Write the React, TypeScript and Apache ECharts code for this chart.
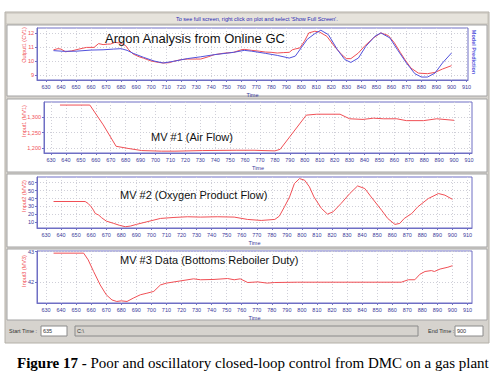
import React, { useEffect, useRef } from "react";
import * as echarts from "echarts";

// ---- data ----
const timeTicks = [630, 640, 650, 660, 670, 680, 690, 700, 710, 720, 730, 740, 750, 760, 770, 780, 790, 800, 810, 820, 830, 840, 850, 860, 870, 880, 890, 900, 910];

const cvTime = [635, 638, 640, 643, 647, 650, 654, 657, 662, 665, 668, 671, 673, 676, 679, 681, 683, 685, 688, 692, 695, 700, 705, 708, 712, 715, 720, 724, 730, 733, 738, 742, 748, 755, 760, 762, 767, 772, 776, 780, 784, 788, 792, 794, 796, 799, 802, 805, 809, 812, 817, 822, 827, 830, 833, 838, 842, 848, 853, 858, 862, 866, 869, 873, 878, 884, 889, 894, 900];
const cvMeasured = [10.8, 10.88, 10.85, 10.66, 10.72, 10.8, 10.9, 10.97, 10.97, 11.24, 11.17, 11.2, 11.21, 11.33, 11.28, 11.2, 11.1, 10.81, 10.5, 10.3, 10.2, 10.0, 9.9, 9.86, 9.88, 9.98, 10.1, 10.14, 10.14, 10.14, 10.3, 10.45, 10.55, 10.62, 10.8, 10.83, 10.76, 10.7, 10.64, 10.62, 10.57, 10.6, 10.62, 10.8, 10.86, 10.93, 11.4, 12.0, 12.12, 12.07, 11.76, 11.05, 10.45, 10.17, 10.17, 10.57, 11.05, 11.64, 12.0, 11.81, 11.29, 10.6, 10.1, 9.5, 9.14, 9.1, 9.19, 9.43, 9.67];

const modelTime = [635, 642, 650, 660, 668, 675, 680, 684, 688, 695, 702, 708, 715, 724, 733, 742, 755, 762, 767, 776, 784, 792, 796, 800, 804, 809, 813, 818, 824, 829, 833, 838, 843, 849, 853, 859, 864, 870, 875.6, 880, 884, 889, 894, 900];
const cvModel = [10.74, 10.69, 10.7, 10.78, 10.8, 10.85, 10.88, 10.76, 10.55, 10.26, 10.0, 9.86, 9.98, 10.17, 10.3, 10.45, 10.62, 10.76, 10.7, 10.55, 10.4, 10.21, 10.35, 10.95, 11.55, 11.95, 12.19, 11.88, 10.81, 10.1, 9.9, 10.21, 11.05, 11.76, 12.0, 11.64, 10.81, 9.86, 9.1, 8.86, 8.86, 9.14, 9.86, 10.57];

const mv1Time = [636, 656, 665, 673.6, 681.6, 690.7, 704, 713, 731.6, 754, 766, 772, 780, 783.5, 792.4, 801, 808, 823.6, 830, 839, 846, 852.7, 861.6, 868, 879.5, 888.4, 900];
const mv1Value = [1340, 1340, 1275, 1205, 1198, 1191, 1189, 1189, 1191, 1192, 1192, 1191, 1190, 1195, 1252, 1307, 1310, 1310, 1295, 1293, 1297, 1295, 1295, 1289, 1289, 1295, 1290];

const mv2Time = [635, 656, 658, 660, 661.5, 662.7, 665, 667, 670, 675, 679, 682.7, 686, 690, 697, 706, 715, 724, 732.7, 743.8, 755, 763.8, 773, 782, 785, 788.4, 791.8, 795, 798.4, 801.8, 805, 808, 813, 817, 820.7, 826, 831.8, 837, 841.8, 846, 852.9, 857, 861.8, 865, 868, 873, 877, 884, 890.7, 895, 900];
const mv2Value = [36.25, 36.25, 33.75, 29.6, 25.4, 21.25, 19.2, 15.8, 11.7, 8.75, 6.25, 4.6, 5.4, 7.5, 10.8, 15, 16.25, 17.1, 16.7, 17.1, 16.7, 13.75, 12.5, 13.75, 17.9, 29.6, 42, 58.75, 65, 63, 54.6, 42, 27.5, 20.4, 23.3, 33.75, 46.25, 55.8, 52.5, 42, 25.4, 15, 7.5, 8.75, 15, 21.25, 29.6, 40, 46.25, 44.2, 39];

const mv3Time = [635, 655, 658, 661.6, 666, 670, 673.8, 677, 680, 683.8, 688, 692.7, 697, 701.6, 706, 710, 719, 728, 732.7, 741.6, 750.6, 755, 759, 764, 770.7, 777, 781.8, 797, 830.7, 866, 870.7, 875, 878.4, 881.8, 886, 888, 891.8, 897, 900];
const mv3Value = [42.95, 42.95, 42.73, 42.35, 41.91, 41.59, 41.42, 41.37, 41.39, 41.37, 41.48, 41.59, 41.64, 41.7, 41.91, 41.97, 42.04, 42.11, 42.08, 42.09, 42.12, 42.08, 42.11, 41.99, 42.01, 41.97, 41.99, 42.0, 42.0, 42.0, 42.08, 42.08, 42.26, 42.35, 42.38, 42.35, 42.43, 42.49, 42.54];

const cvTicks = [9, 10, 11, 12];
const mv1Ticks = [1200, 1250, 1300];
const mv2Ticks = [10, 20, 30, 40, 50, 60];
const mv3Ticks = [42, 43];

const panelTitles = ["Argon Analysis from Online GC", "MV #1 (Air Flow)", "MV #2 (Oxygen Product Flow)", "MV #3 Data (Bottoms Reboiler Duty)"];
const yNames = ["Output1 (CV1)", "Input1 (MV1)", "Input2 (MV2)", "Input3 (MV3)"];

const zip = (xs: number[], ys: number[]) => xs.map((x, i) => [x, ys[i]]);

const RED = "#f04f55";
const BLUE = "#5252dc";
const AXIS = "#6f6fc4";
const LABEL = "#3a3a9a";
const FONT = "Arial, 'Liberation Sans', sans-serif";
const SERIF = "'Liberation Serif', 'Times New Roman', serif";

export default function App() {
  const ref = useRef<HTMLDivElement>(null);
  useEffect(() => {
    if (!ref.current) return;
    const chart = echarts.init(ref.current, undefined, { renderer: "svg" });

    const grids = [
      { left: 37, top: 28, width: 431, height: 52 },
      { left: 44, top: 102, width: 428, height: 51 },
      { left: 37, top: 177, width: 435, height: 51 },
      { left: 37, top: 251, width: 435, height: 52 },
    ];
    const xRanges = [[624, 911], [625.3, 912], [624, 913], [624, 913]];
    const yRanges = [[8.65, 12.35], [1183, 1350], [3, 67], [41.32, 43.02]];
    const yTicks = [cvTicks, mv1Ticks, mv2Ticks, mv3Ticks];

    const split = { show: true, lineStyle: { color: "#cfcfd8", type: [1, 2] as any, width: 1 } };

    const xAxis = grids.map((_, i) => ({
      type: "value",
      gridIndex: i,
      min: xRanges[i][0],
      max: xRanges[i][1],
      axisLine: { show: true, onZero: false, lineStyle: { color: AXIS } },
      axisTick: { show: true, length: 2, customValues: timeTicks, lineStyle: { color: AXIS } },
      axisLabel: { customValues: timeTicks, fontSize: 5.5, color: LABEL, margin: 4, fontFamily: FONT },
      splitLine: split,
      name: "Time",
      nameLocation: "middle",
      nameGap: 12,
      nameTextStyle: { fontSize: 5.5, color: LABEL, fontFamily: FONT },
    }));
    const yAxis = grids.map((_, i) => ({
      type: "value",
      gridIndex: i,
      min: yRanges[i][0],
      max: yRanges[i][1],
      axisLine: { show: true, lineStyle: { color: AXIS } },
      axisTick: { show: true, length: 2, customValues: yTicks[i], lineStyle: { color: AXIS } },
      axisLabel: {
        customValues: yTicks[i],
        fontSize: 5.5,
        color: i <= 1 ? RED : LABEL,
        margin: 3,
        fontFamily: FONT,
        formatter: (v: number) => (i === 1 ? v.toLocaleString("en-US") : String(v)),
      },
      splitLine: split,
    }));

    const line = (xi: number, data: number[][], color: string) => ({
      type: "line",
      xAxisIndex: xi,
      yAxisIndex: xi,
      data,
      showSymbol: false,
      symbol: "none",
      lineStyle: { color, width: 1 },
      z: 3,
    });

    const graphic: any[] = [
      { type: "rect", z: -10, shape: { x: 5, y: 12, width: 484, height: 331 }, style: { fill: "#d6d3ce", stroke: "#b4b0a8" } },
      { type: "rect", z: -9, shape: { x: 6, y: 13, width: 482, height: 11 }, style: { fill: "#e6e3dc", stroke: "#c4c0b8" } },
      { type: "text", z: 10, x: 176, y: 19, style: { text: "To see full screen, right click on plot and select 'Show Full Screen'.", fontSize: 5.5, fill: "#2a2ab4", fontFamily: FONT, verticalAlign: "middle" } },
      { type: "rect", z: -9, shape: { x: 7, y: 25, width: 480, height: 71 }, style: { fill: "#ffffff", stroke: "#a4a4a4" } },
      { type: "rect", z: -9, shape: { x: 7, y: 99, width: 480, height: 73 }, style: { fill: "#ffffff", stroke: "#a4a4a4" } },
      { type: "rect", z: -9, shape: { x: 7, y: 174, width: 480, height: 73 }, style: { fill: "#ffffff", stroke: "#a4a4a4" } },
      { type: "rect", z: -9, shape: { x: 7, y: 249, width: 480, height: 71 }, style: { fill: "#ffffff", stroke: "#a4a4a4" } },
      // status bar
      { type: "text", z: 10, x: 9, y: 331, style: { text: "Start Time :", fontSize: 5.5, fill: "#333", fontFamily: FONT, verticalAlign: "middle" } },
      { type: "rect", z: 5, shape: { x: 41, y: 326, width: 26, height: 10 }, style: { fill: "#ffffff", stroke: "#8a8a8a" } },
      { type: "text", z: 10, x: 43, y: 331, style: { text: "635", fontSize: 5.5, fill: "#333", fontFamily: FONT, verticalAlign: "middle" } },
      { type: "rect", z: 5, shape: { x: 75, y: 326, width: 343, height: 10 }, style: { fill: "#d6d3ce", stroke: "#8a8a8a" } },
      { type: "text", z: 10, x: 77, y: 331, style: { text: "C:\\", fontSize: 5.5, fill: "#333", fontFamily: FONT, verticalAlign: "middle" } },
      { type: "text", z: 10, x: 428, y: 331, style: { text: "End Time :", fontSize: 5.5, fill: "#333", fontFamily: FONT, verticalAlign: "middle" } },
      { type: "rect", z: 5, shape: { x: 455, y: 326, width: 28, height: 10 }, style: { fill: "#ffffff", stroke: "#8a8a8a" } },
      { type: "text", z: 10, x: 457, y: 331, style: { text: "900", fontSize: 5.5, fill: "#333", fontFamily: FONT, verticalAlign: "middle" } },
      // titles
      { type: "text", z: 10, x: 105, y: 38, style: { text: panelTitles[0], fontSize: 13, fill: "#111", fontFamily: FONT, verticalAlign: "middle" } },
      { type: "text", z: 10, x: 151, y: 137, style: { text: panelTitles[1], fontSize: 11, fill: "#111", fontFamily: FONT, verticalAlign: "middle" } },
      { type: "text", z: 10, x: 120, y: 195, style: { text: panelTitles[2], fontSize: 11, fill: "#111", fontFamily: FONT, verticalAlign: "middle" } },
      { type: "text", z: 10, x: 120, y: 260, style: { text: panelTitles[3], fontSize: 11, fill: "#111", fontFamily: FONT, verticalAlign: "middle" } },
      // y names
      ...[45, 121, 196, 271].map((cy, i) => ({
        type: "text", z: 10, x: 24, y: cy, rotation: Math.PI / 2,
        style: { text: yNames[i], fontSize: 5.5, fill: RED, fontFamily: FONT, align: "center", verticalAlign: "middle" },
      })),
      { type: "text", z: 10, x: 474, y: 52, rotation: -Math.PI / 2, style: { text: "Model Prediction", fontSize: 5.5, fill: BLUE, fontFamily: FONT, align: "center", verticalAlign: "middle", fontWeight: "bold" } },
      // caption
      {
        type: "text", z: 10, x: 17, y: 363,
        style: {
          text: "{b|Figure 17 - }{n|Poor and oscillatory closed-loop control from DMC on a gas plant}",
          fontSize: 15, fill: "#000", fontFamily: SERIF, verticalAlign: "middle",
          rich: {
            b: { fontWeight: "bold", fontSize: 15, fontFamily: SERIF, fill: "#000" },
            n: { fontSize: 15, fontFamily: SERIF, fill: "#000" },
          },
        },
      },
    ];

    chart.setOption({
      animation: false,
      backgroundColor: "#ffffff",
      grid: grids.map((g) => ({ ...g, show: true, borderColor: AXIS, borderWidth: 1, backgroundColor: "transparent" })),
      xAxis,
      yAxis,
      series: [
        line(0, zip(cvTime, cvMeasured), RED),
        line(0, zip(modelTime, cvModel), BLUE),
        line(1, zip(mv1Time, mv1Value), RED),
        line(2, zip(mv2Time, mv2Value), RED),
        line(3, zip(mv3Time, mv3Value), RED),
      ],
      graphic,
    } as any);
    return () => chart.dispose();
  }, []);
  return <div ref={ref} style={{ position: "fixed", left: 0, top: 0, width: 502, height: 384 }} />;
}
